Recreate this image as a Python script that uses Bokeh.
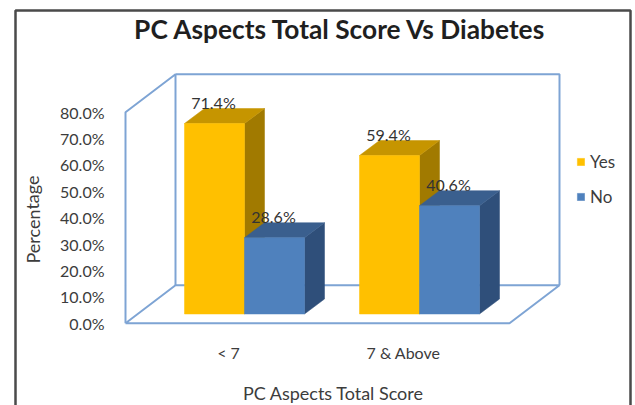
from bokeh.core.properties import value
from bokeh.embed import file_html
from bokeh.models import (ColumnDataSource, FixedTicker, Legend, LegendItem,
                          LinearAxis, PrintfTickFormatter, Range1d)
from bokeh.plotting import figure
from bokeh.resources import INLINE

# Survey percentages by score group
categories = ["< 7", "7 & Above"]
yes_values = [71.4, 59.4]
no_values = [28.6, 40.6]
axis_ticks = [0, 10, 20, 30, 40, 50, 60, 70, 80]

W, H = 635, 405
FONT = "Lato"
TEXT = "#3c3c3c"

# Vertical scales: bars stand on a floor set slightly in from the front edge
BAR_BASE_PX, BAR_PX_PER_PCT = 313.5, 2.668
AXIS_BASE_PX, AXIS_PX_PER_PCT = 322.7, 2.6375

# Horizontal layout on a 0..W range
GROUP_LEFT = [184.0, 359.0]
BAR_W = 60.0
DEPTH_X, DEPTH_PX = 20.0, 15.0
depth_pct = DEPTH_PX / BAR_PX_PER_PCT
TICK_X = [228, 403]


def px_to_bar(py):
    return (BAR_BASE_PX - py) / BAR_PX_PER_PCT


def px_to_axis(py):
    return (AXIS_BASE_PX - py) / AXIS_PX_PER_PCT


p = figure(width=W, height=H, output_backend="svg", toolbar_location=None,
           x_range=Range1d(0, W), y_range=Range1d(px_to_bar(H), px_to_bar(0)),
           min_border=0, min_border_left=0, min_border_right=0,
           min_border_top=0, min_border_bottom=0,
           x_axis_type=None, y_axis_type=None, background_fill_color="white")
p.extra_y_ranges = {"axis": Range1d(px_to_axis(H), px_to_axis(0))}
p.grid.visible = False
p.outline_line_color = None

# Chart border, running off the bottom of the page
border_x = [15, 15, 630, 630]
border_y = [px_to_bar(H + 5), px_to_bar(10), px_to_bar(10), px_to_bar(H + 5)]
p.line(border_x, border_y, line_color="#4a4a4a", line_width=2.5)

# Walls and floor of the 3D box
WALL = "#7ea4d4"
FRONT_L, FRONT_R, BACK_L, BACK_R = 125, 509, 175, 559
TOP = axis_ticks[-1]
BOX_DEPTH = 38 / AXIS_PX_PER_PCT
wall_xs = [[FRONT_L, FRONT_L, BACK_L, BACK_L],
           [BACK_L, BACK_R, BACK_R],
           [FRONT_L, FRONT_R, BACK_R, BACK_L, FRONT_L]]
wall_ys = [[0, TOP, TOP + BOX_DEPTH, BOX_DEPTH],
           [TOP + BOX_DEPTH, TOP + BOX_DEPTH, BOX_DEPTH],
           [0, 0, BOX_DEPTH, BOX_DEPTH, 0]]
p.multi_line(wall_xs, wall_ys, y_range_name="axis", line_color=WALL, line_width=2)


def draw_series(values, lefts, front, top_face, side_face):
    rights = [x + BAR_W for x in lefts]
    src = ColumnDataSource(dict(x=[x + BAR_W / 2 for x in lefts], top=values))
    side_xs = [[r, r + DEPTH_X, r + DEPTH_X, r] for r in rights]
    side_ys = [[0, depth_pct, v + depth_pct, v] for v in values]
    top_xs = [[l, r, r + DEPTH_X, l + DEPTH_X] for l, r in zip(lefts, rights)]
    top_ys = [[v, v, v + depth_pct, v + depth_pct] for v in values]
    p.patches(side_xs, side_ys, fill_color=side_face, line_color=side_face, line_width=0.5)
    p.patches(top_xs, top_ys, fill_color=top_face, line_color=top_face, line_width=0.5)
    return p.vbar(x="x", top="top", bottom=0, width=BAR_W, source=src,
                  fill_color=front, line_color=front, line_width=0.5), src


yes_bars, yes_src = draw_series(yes_values, GROUP_LEFT, "#ffc000", "#c69500", "#a17a00")
no_bars, no_src = draw_series(no_values, [x + BAR_W for x in GROUP_LEFT],
                              "#4f81bd", "#3a5f8e", "#2f4f7a")

# Value labels
for src, vals in ((yes_src, yes_values), (no_src, no_values)):
    src.data["label"] = [f"{v:.1f}%" for v in vals]
    p.text(x="x", y="top", text="label", source=src, text_font=value(FONT),
           text_font_size="16px", text_color="#333333", text_align="center",
           text_baseline="middle", x_offset=-1, y_offset=-21)

# Value axis placed at the front of the left wall
y_axis = LinearAxis(y_range_name="axis", fixed_location=FRONT_L,
                    ticker=FixedTicker(ticks=axis_ticks),
                    formatter=PrintfTickFormatter(format="%.1f%%"))
y_axis.axis_line_color = None
y_axis.major_tick_line_color = None
y_axis.minor_tick_line_color = None
y_axis.major_label_standoff = 15
y_axis.major_label_text_font = FONT
y_axis.major_label_text_font_size = "16px"
y_axis.major_label_text_color = TEXT
p.add_layout(y_axis, "left")

# Category axis under the floor
x_axis = LinearAxis(fixed_location=px_to_bar(323),
                    ticker=FixedTicker(ticks=TICK_X),
                    major_label_overrides=dict(zip(TICK_X, categories)))
x_axis.axis_line_color = None
x_axis.major_tick_line_color = None
x_axis.minor_tick_line_color = None
x_axis.major_label_standoff = 13
x_axis.major_label_text_font = FONT
x_axis.major_label_text_font_size = "16px"
x_axis.major_label_text_color = TEXT
p.add_layout(x_axis, "below")

# Title and axis titles
p.text([340], [px_to_bar(28)], text=["PC Aspects Total Score Vs Diabetes"],
       text_font=value(FONT), text_font_style="bold", text_font_size="26.3px",
       text_color="#1f1f1f", text_align="center", text_baseline="middle")
p.text([333], [px_to_bar(392)], text=["PC Aspects Total Score"],
       text_font=value(FONT), text_font_size="18px", text_color=TEXT,
       text_align="center", text_baseline="middle")
p.text([32], [px_to_bar(219)], text=["Percentage"], angle=1.5708,
       text_font=value(FONT), text_font_size="18px", text_color=TEXT,
       text_align="center", text_baseline="middle")

legend = Legend(items=[LegendItem(label="Yes", renderers=[yes_bars]),
                       LegendItem(label="No", renderers=[no_bars])],
                location=(576, H - 207), orientation="vertical",
                background_fill_alpha=0, border_line_color=None,
                padding=0, margin=0, spacing=14,
                glyph_width=9, glyph_height=9, label_standoff=5,
                label_text_font=FONT, label_text_font_size="17px",
                label_text_color=TEXT, label_height=18)
p.add_layout(legend, "center")

open("out.html", "w").write(file_html(p, INLINE))
